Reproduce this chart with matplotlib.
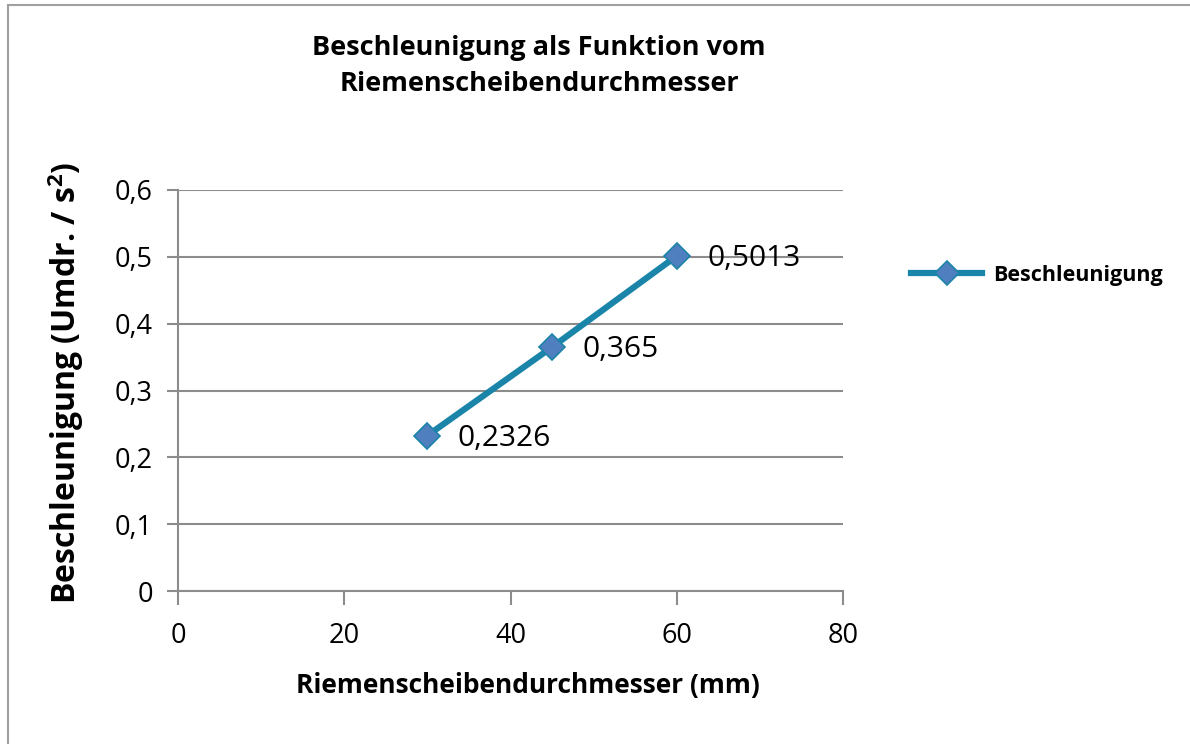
import matplotlib.pyplot as plt
from matplotlib.patches import Rectangle

# Werte aus dem Diagramm
durchmesser = [30, 45, 60]
beschleunigung = [0.2326, 0.365, 0.5013]
y_ticks = [0, 0.1, 0.2, 0.3, 0.4, 0.5, 0.6]
x_ticks = [0, 20, 40, 60, 80]

plt.rcParams['font.family'] = ['Open Sans', 'DejaVu Sans']
plt.rcParams['mathtext.fontset'] = 'custom'
plt.rcParams['mathtext.rm'] = 'Open Sans:bold'
plt.rcParams['mathtext.bf'] = 'Open Sans:bold'

line_col = '#1a85a8'
mark_col = '#4f7fbf'
grid_col = '#8c8c8c'

fig = plt.figure(figsize=(11.9, 7.44), dpi=100)
ax = fig.add_axes([178/1190, 1-591/744, (843-178)/1190, (591-190)/744])

# Rahmen um das Diagramm
fig.patches.append(Rectangle((8/1190, -0.1), 1.2, 1.1 - 5/744, transform=fig.transFigure,
                             fill=False, edgecolor='#a0a0a0', lw=1.5))

ax.plot(durchmesser, beschleunigung, color=line_col, lw=4.5, marker='D', ms=13,
        mfc=mark_col, mec=line_col, mew=1.2, label='Beschleunigung', zorder=3)

for x, y in zip(durchmesser, beschleunigung):
    ax.annotate(str(y).replace('.', ','), (x, y), xytext=(22, -2), textcoords='offset points',
                va='center', ha='left', fontsize=21.5)

ax.set_xlim(0, 80)
ax.set_ylim(0, 0.6)
ax.set_xticks(x_ticks)
ax.set_xticklabels([str(t) for t in x_ticks], fontsize=19.5)
ax.set_yticks(y_ticks)
ax.set_yticklabels([('%g' % t).replace('.', ',') for t in y_ticks], fontsize=19.5)
ax.grid(axis='y', color=grid_col, lw=1.5)
ax.set_axisbelow(True)
for s in ['top', 'right']:
    ax.spines[s].set_visible(False)
for s in ['left', 'bottom']:
    ax.spines[s].set_color(grid_col)
    ax.spines[s].set_linewidth(1.5)
ax.tick_params(axis='x', length=10, width=1.5, color=grid_col, pad=12)
ax.tick_params(axis='y', length=8, width=1.5, color=grid_col, pad=10)

ax.set_xlabel('Riemenscheibendurchmesser (mm)', fontsize=19, fontweight='bold')
ax.xaxis.set_label_coords((528-178)/665, -(686-591)/401, transform=None)
ax.xaxis.label.set_va('center')
ax.set_ylabel(r'Beschleunigung (Umdr. / s$^\mathbf{2}$)', fontsize=23, fontweight='bold')
ax.yaxis.set_label_coords(-(178-66)/665, (591-383)/401)
ax.yaxis.label.set_va('center')

fig.text(539/1190, 1-66/744, 'Beschleunigung als Funktion vom\nRiemenscheibendurchmesser',
         ha='center', va='center', fontsize=19.5, fontweight='bold', linespacing=1.5)

ax.legend(loc='center left', bbox_to_anchor=(892/1190, 1-275/744), bbox_transform=fig.transFigure,
          frameon=False, prop={'weight': 'bold', 'size': 15.5}, handlelength=3.3,
          handletextpad=0.5, markerscale=0.95)

fig.savefig('out.png', dpi=100)
